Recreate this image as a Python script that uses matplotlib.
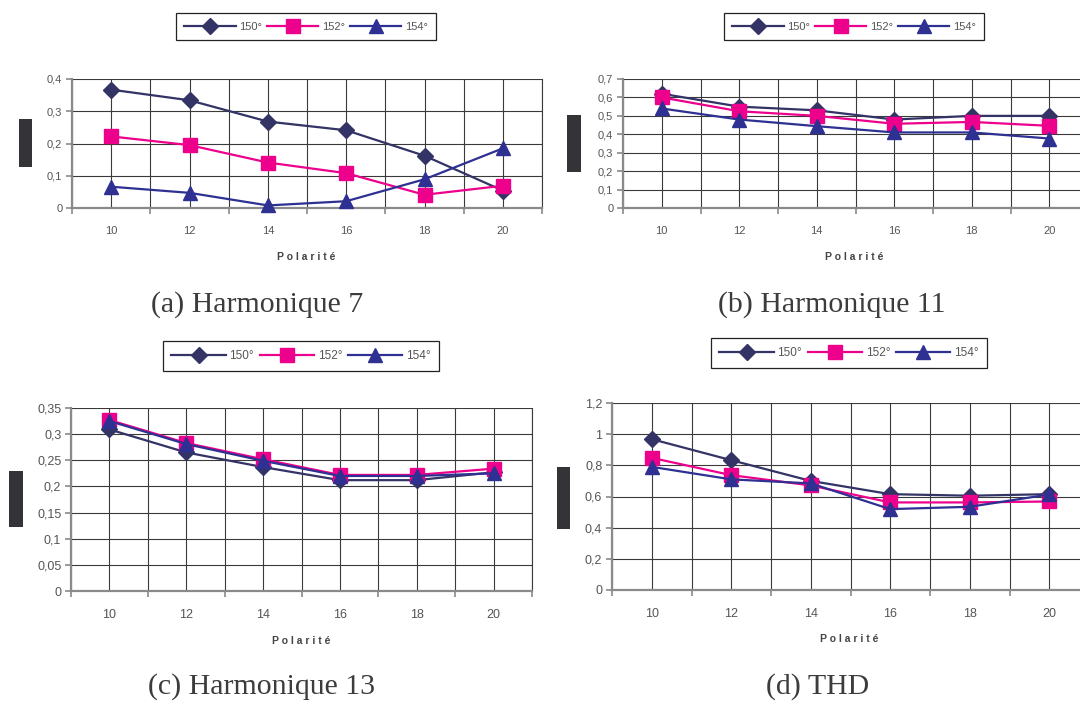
import matplotlib
matplotlib.use("Agg")
import matplotlib.pyplot as plt
from matplotlib.patches import Rectangle
from matplotlib.ticker import FixedLocator, FuncFormatter

# ---------------- data ----------------
polarite = [10, 12, 14, 16, 18, 20]
series_labels = ["150°", "152°", "154°"]

h7_150 = [0.367, 0.334, 0.268, 0.241, 0.162, 0.054]
h7_152 = [0.222, 0.195, 0.141, 0.108, 0.041, 0.069]
h7_154 = [0.066, 0.047, 0.008, 0.021, 0.089, 0.185]

h11_150 = [0.62, 0.55, 0.53, 0.48, 0.50, 0.50]
h11_152 = [0.60, 0.525, 0.50, 0.457, 0.467, 0.446]
h11_154 = [0.54, 0.48, 0.444, 0.41, 0.41, 0.377]

h13_150 = [0.309, 0.265, 0.237, 0.212, 0.212, 0.227]
h13_152 = [0.327, 0.283, 0.252, 0.222, 0.222, 0.234]
h13_154 = [0.325, 0.281, 0.249, 0.220, 0.220, 0.225]

thd_150 = [0.968, 0.833, 0.700, 0.615, 0.605, 0.615]
thd_152 = [0.848, 0.737, 0.671, 0.562, 0.562, 0.568]
thd_154 = [0.790, 0.710, 0.684, 0.519, 0.534, 0.613]

yticks_h7 = [0, 0.1, 0.2, 0.3, 0.4]
yticks_h11 = [0, 0.1, 0.2, 0.3, 0.4, 0.5, 0.6, 0.7]
yticks_h13 = [0, 0.05, 0.1, 0.15, 0.2, 0.25, 0.3, 0.35]
yticks_thd = [0, 0.2, 0.4, 0.6, 0.8, 1.0, 1.2]

captions = ["(a) Harmonique 7", "(b) Harmonique 11", "(c) Harmonique 13", "(d) THD"]

# ---------------- style ----------------
colors = ["#333366", "#ec008c", "#2e3192"]
markers = ["D", "s", "^"]
msizes = [8.5, 10, 10.5]

W, H = 1080, 702
fig = plt.figure(figsize=(W / 100, H / 100), dpi=100)
fig.patch.set_facecolor("white")

def px_axes(left, right, top, bottom):
    return fig.add_axes([left / W, 1 - bottom / H, (right - left) / W, (bottom - top) / H])

def fmt(v, pos=None):
    return ("%g" % round(v, 4)).replace(".", ",")

def draw_panel(ax, s150, s152, s154, yticks, tick_fs):
    ax.set_xlim(9, 21)
    ax.set_ylim(yticks[0], yticks[-1])
    for xv in range(9, 22):
        ax.axvline(xv, color="#3a3a3a", lw=0.8, zorder=1)
    for yv in yticks[1:]:
        ax.axhline(yv, color="#3a3a3a", lw=0.8, zorder=1)
    lines = []
    for vals, c, m, ms, lab in zip([s150, s152, s154], colors, markers, msizes, series_labels):
        ln, = ax.plot(polarite, vals, color=c, lw=1.6, marker=m, markersize=ms,
                      markeredgecolor=c, markerfacecolor=c, label=lab, zorder=3, clip_on=False)
        lines.append(ln)
    ax.spines["top"].set_visible(False)
    ax.spines["right"].set_color("#3a3a3a")
    ax.spines["right"].set_linewidth(0.8)
    for sp in ["left", "bottom"]:
        ax.spines[sp].set_color("#8a8a8a")
        ax.spines[sp].set_linewidth(1.6)
    ax.xaxis.set_major_locator(FixedLocator(polarite))
    ax.xaxis.set_minor_locator(FixedLocator(list(range(9, 22, 2))))
    ax.tick_params(axis="x", which="major", length=0, pad=13, labelsize=tick_fs, labelcolor="#555555")
    ax.tick_params(axis="x", which="minor", length=4, width=1.2, color="#8a8a8a", direction="out")
    ax.yaxis.set_major_locator(FixedLocator(yticks))
    ax.yaxis.set_major_formatter(FuncFormatter(fmt))
    ax.tick_params(axis="y", length=4, width=1.2, color="#8a8a8a", pad=3, labelsize=tick_fs,
                   labelcolor="#555555")
    for t in ax.get_xticklabels() + ax.get_yticklabels():
        t.set_fontfamily("Liberation Sans")
    return lines

def add_legend(ax, lines, cx, cy, fs):
    leg = ax.legend(lines, series_labels, loc="center", bbox_to_anchor=(cx / W, 1 - cy / H),
                    bbox_transform=fig.transFigure, ncol=3, frameon=True, fancybox=False,
                    edgecolor="#222222", framealpha=1, handlelength=4.6, handletextpad=0.3,
                    columnspacing=0.5, borderpad=0.75,
                    prop={"family": "Liberation Sans", "size": fs})
    leg.get_frame().set_linewidth(0.9)
    for t in leg.get_texts():
        t.set_color("#555555")

def polarite_label(x, y):
    fig.text(x / W, 1 - y / H, "P o l a r i t é", ha="center", va="center",
             fontsize=7.5, fontweight="bold", color="#444444", family="Liberation Sans")

def redact(x0, x1, y0, y1):
    fig.patches.append(Rectangle((x0 / W, 1 - y1 / H), (x1 - x0) / W, (y1 - y0) / H,
                                 transform=fig.transFigure, facecolor="#333338", edgecolor="none"))

# panel a
ax_a = px_axes(72, 542, 79, 208)
la = draw_panel(ax_a, h7_150, h7_152, h7_154, yticks_h7, 8)
add_legend(ax_a, la, 306, 26.5, 8)
polarite_label(306, 257)
redact(19, 32, 119, 167)

# panel b
ax_b = px_axes(623, 1088, 79, 208)
lb = draw_panel(ax_b, h11_150, h11_152, h11_154, yticks_h11, 8)
add_legend(ax_b, lb, 854, 26.5, 8)
polarite_label(854, 257)
redact(567, 581, 115, 172)

# panel c
ax_c = px_axes(71, 532, 408, 591)
lc = draw_panel(ax_c, h13_150, h13_152, h13_154, yticks_h13, 9)
add_legend(ax_c, lc, 301, 356, 8.5)
polarite_label(301, 641)
redact(9, 23, 471, 527)

# panel d
ax_d = px_axes(612, 1089, 403, 590)
ld = draw_panel(ax_d, thd_150, thd_152, thd_154, yticks_thd, 9)
add_legend(ax_d, ld, 849, 353, 8.5)
polarite_label(849, 639)
redact(557, 570, 467, 529)

# captions
for (cx, by), txt in zip([(257, 312), (832, 312), (262, 694), (818, 694)], captions):
    fig.text(cx / W, 1 - by / H, txt, ha="center", va="baseline", fontsize=21.5,
             family="Liberation Serif", color="#3c3c3c")

fig.savefig("out.png", dpi=100)
